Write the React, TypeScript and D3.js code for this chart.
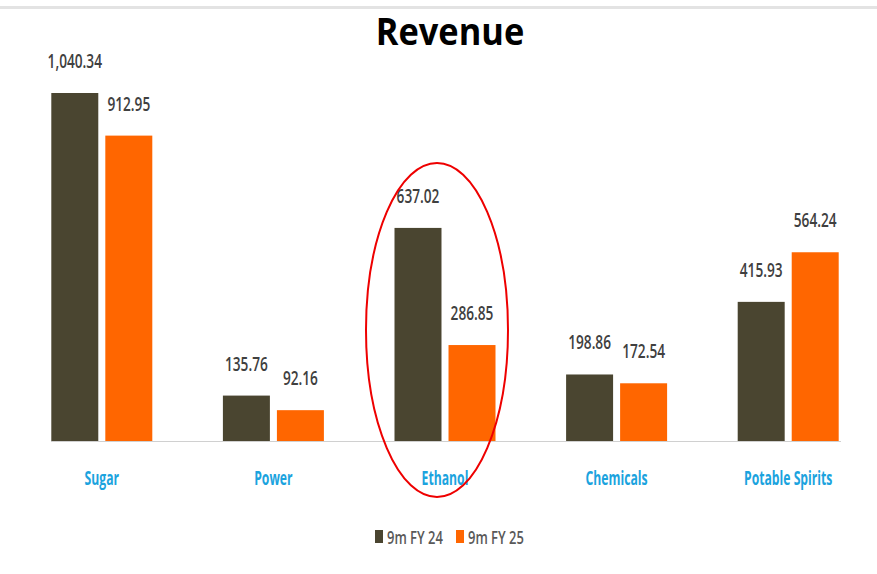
import React from "react";
import * as d3 from "d3";

const categories = ["Sugar", "Power", "Ethanol", "Chemicals", "Potable Spirits"];
const seriesNames = ["9m FY 24", "9m FY 25"];
const fy24 = [1040.34, 135.76, 637.02, 198.86, 415.93];
const fy25 = [912.95, 92.16, 286.85, 172.54, 564.24];
const seriesValues = [fy24, fy25];
const colors = ["#4a4530", "#ff6600"];

const W = 877;
const H = 574;
const baseY = 441;
const fmt = d3.format(",.2f");
const sans = "'Open Sans', 'Liberation Sans', sans-serif";

function CText(props: {
  x: number;
  y: number;
  sx: number;
  size: number;
  fill: string;
  anchor?: string;
  weight?: string;
  children: React.ReactNode;
}) {
  return (
    <g transform={`translate(${props.x},${props.y}) scale(${props.sx},1)`}>
      <text
        x={0}
        y={0}
        textAnchor={props.anchor || "middle"}
        fontFamily={sans}
        fontWeight={props.weight || "bold"}
        fontSize={props.size}
        fill={props.fill}
      >
        {props.children}
      </text>
    </g>
  );
}

export default function App() {
  const x0 = d3.scaleBand<string>().domain(categories).range([16, 874]).padding(0);
  const x1 = d3
    .scaleBand<number>()
    .domain([0, 1])
    .range([x0.bandwidth() / 2 - 50.5, x0.bandwidth() / 2 + 50.5])
    .paddingInner(0.13);
  const y = d3.scaleLinear().domain([0, 1040.34]).range([baseY, 93]);

  return (
    <svg
      width={W}
      height={H}
      style={{ position: "absolute", left: 0, top: 0, background: "#fff" }}
    >
      <rect x={0} y={6} width={W} height={3} fill="#e3e3e3" />
      <CText x={450} y={45} sx={0.93} size={37} fill="#000">
        Revenue
      </CText>
      <line x1={51} x2={841} y1={baseY + 0.5} y2={baseY + 0.5} stroke="#d0d0d0" strokeWidth={1} />
      {categories.map((c, i) => (
        <g key={c} transform={`translate(${x0(c)},0)`}>
          {seriesValues.map((vals, s) => {
            const v = vals[i];
            const bx = x1(s)!;
            const bw = x1.bandwidth();
            return (
              <g key={s}>
                <rect x={bx} y={y(v)} width={bw} height={baseY - y(v)} fill={colors[s]} />
                <CText x={bx + bw / 2} y={y(v) - 25} sx={0.72} size={19} fill="#404040" weight="600">
                  {fmt(v)}
                </CText>
              </g>
            );
          })}
          <CText x={x0.bandwidth() / 2} y={485} sx={0.61} size={20} fill="#1ba3de">
            {c}
          </CText>
        </g>
      ))}
      <ellipse cx={437} cy={330} rx={71} ry={167} fill="none" stroke="#ee0000" strokeWidth={2} />
      {seriesNames.map((n, s) => {
        const lx = s === 0 ? 375 : 456;
        return (
          <g key={n}>
            <rect x={lx} y={530} width={8} height={13} fill={colors[s]} />
            <CText x={lx + 12} y={544} sx={0.72} size={18} fill="#595959" anchor="start" weight="600">
              {n}
            </CText>
          </g>
        );
      })}
    </svg>
  );
}
